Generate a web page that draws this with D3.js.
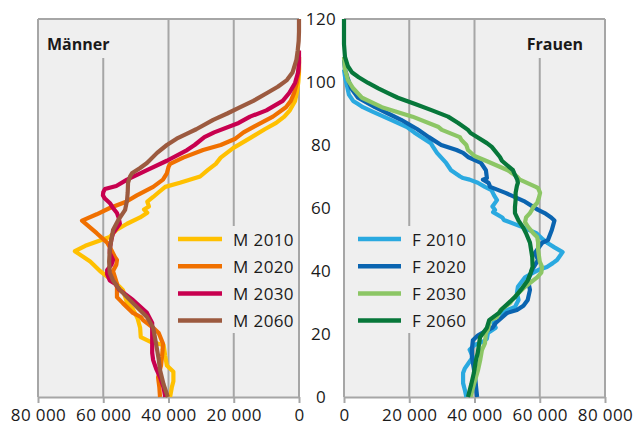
<!DOCTYPE html>
<html><head><meta charset="utf-8">
<script src="https://cdn.jsdelivr.net/npm/d3@7"></script>
<style>body{margin:0;background:#fff}svg{display:block;font-family:"Open Sans",sans-serif}</style>
</head><body><svg id="c" width="635" height="426"></svg>
<script>
// [age, persons]
const m2010 = [[0,39500],[3,39000],[5,38500],[8,38500],[10,40500],[13,41000],[16.5,41500],[17.5,45500],[19,48500],[22,48700],[25,49500],[28,51000],[30,52700],[34,54000],[36,56000],[38,58500],[40,61000],[43,64000],[46.3,68700],[48,65500],[50.8,58000],[53,56000],[55,52700],[57,48700],[58.5,46500],[59.5,47500],[60.5,46000],[62,46500],[63.5,44700],[65,43000],[66.7,41000],[68,36500],[70,30300],[72,28000],[74,25500],[76,24000],[79,20200],[82.5,14500],[85,10500],[87,7000],[89,4500],[91,2800],[94,1200],[97,600],[100,200],[103,0],[108,0]];
const m2020 = [[0,42600],[3,42800],[6.3,43200],[10,42300],[12.7,42000],[15,41800],[17,41700],[20.3,43000],[22,44700],[24.4,47800],[25.4,48500],[26.7,50900],[29.8,54000],[31.7,55800],[33,55800],[36,55800],[40,57000],[42,56000],[43.5,55800],[44.4,56400],[47.6,58000],[49,58800],[52,62000],[56,66500],[58,62000],[60,58000],[62,53000],[64,49700],[66.7,44700],[69,41700],[71,40500],[73,40000],[74,39500],[76,35500],[78.4,29400],[80,24000],[82,19500],[84,17000],[86,13500],[89,8000],[92,4000],[94,2500],[96.5,1500],[100,600],[104,0],[108,0]];
const m2030 = [[0,41000],[3,41500],[6.3,42600],[9,43800],[11.7,44700],[14,45000],[17,45000],[20,45000],[23.5,45000],[26.7,46600],[30.8,50900],[34,55000],[36,56400],[37,58000],[39,58800],[40.3,58800],[42,57500],[43.5,57000],[45.7,58000],[47,58000],[50,57500],[52,57000],[55,54900],[57,55300],[58.4,55800],[60,57000],[61.6,58000],[63,59500],[64,60100],[65,60000],[66,59500],[67,56000],[69,52700],[72,46600],[75,40500],[78.4,34300],[80,32000],[82.5,29000],[84,26000],[87,18500],[89,15000],[91,10000],[94,5000],[96.5,3000],[99.7,1200],[103,300],[106,0],[110,0]];
const m2060 = [[0,40200],[4,41500],[8.6,42600],[12,43000],[15,43500],[18,44000],[22,44700],[25.4,46600],[29.8,50900],[34,54900],[37,57000],[39.4,58000],[43,58200],[46.7,58000],[50,57500],[53,57000],[56,55500],[59.4,53300],[62.5,52700],[65,52500],[68,52400],[70,51800],[71,51200],[72.7,48700],[74.3,46600],[77.5,43500],[80,40500],[82,37500],[84,33500],[85,31500],[88,26300],[90,22000],[92,18000],[94,14000],[96.5,9800],[98.5,6500],[100.6,3700],[103,2000],[107,800],[110,400],[113,100],[116,0],[120,0]];

const f2010 = [[0,37500],[2,37100],[4.4,36500],[7.6,36500],[9,37000],[10.8,38200],[12.7,39500],[15,38500],[16.5,40000],[17.5,42500],[18.5,43800],[20.3,44100],[22,46500],[23.5,45800],[25.4,46000],[27.6,50000],[28.6,52400],[30.8,53500],[33,53000],[35,53300],[38,55500],[39.4,57900],[40.3,59500],[41.3,62200],[42.5,64000],[43.5,65300],[46,67000],[47.5,64500],[48.8,62500],[50,61000],[52,59000],[54,54500],[56.2,49000],[57,48500],[58.7,45700],[59.4,46300],[60.5,45500],[62.5,46900],[64,46000],[65.7,45200],[66.7,43200],[68,41000],[69,38500],[69.5,36500],[70,35600],[72,32800],[74.3,31300],[77.5,28500],[79.4,27300],[80.6,26600],[84,21500],[85.7,19300],[88,14400],[90.5,8900],[92,5800],[93,4300],[94,2800],[96,1500],[98.4,1000],[101,400],[104,0]];
const f2020 = [[0,40800],[3,40500],[6.3,40200],[9,39800],[12.7,39200],[15,39200],[18,39500],[19.5,41000],[20.3,42300],[22,45500],[23.5,46500],[26.7,50000],[27.6,53000],[29,55000],[30.8,56300],[34,57000],[37,56400],[40.3,57600],[43.5,59500],[45.7,58500],[48.9,60700],[49.8,62500],[53,63700],[56,64500],[57,63500],[58.4,61500],[59.4,59500],[62,55500],[64.8,49500],[66.7,44800],[68,44300],[69,42600],[69.5,43800],[72,43500],[74.3,42000],[76.2,38000],[77.5,36500],[78.4,34500],[80,29800],[82.5,26000],[85,22500],[88,17500],[90,13500],[92,9500],[95,4300],[98,2200],[101.6,1000],[104,300],[107,0]];
const f2030 = [[0,38800],[4,39800],[8.6,41100],[12,41800],[15,42300],[17,43200],[20.3,43500],[21.3,44100],[24.4,44800],[25.4,46900],[27.6,48000],[29.8,50900],[30.8,51500],[33,53500],[35,55500],[38,59200],[39.5,60500],[41.3,60700],[43,60000],[46.7,59500],[49,59500],[50.8,59200],[52,58000],[54,56400],[55.5,55500],[57,55800],[58.4,57000],[59.4,57600],[60.3,58000],[61.6,59200],[63.5,59800],[64.8,60100],[66.3,59500],[66.7,58800],[69,53900],[70,53000],[72,50200],[75,43500],[76.5,40000],[78.4,38000],[80,37500],[81.6,36000],[82.5,35500],[84.8,30000],[85.7,29000],[89,21000],[92,11600],[95,5500],[98,2800],[100.6,1200],[104,300],[108,0]];
const f2060 = [[0,38000],[4,39000],[7.6,39800],[12,40500],[14,41000],[19,41700],[22,43800],[24.4,44500],[26.7,47500],[28,48500],[31.7,52400],[34,54200],[37,56300],[39.4,57200],[41.3,57800],[44.4,57700],[49,57000],[52,55800],[54,54800],[56,53500],[58.4,52400],[60.3,52400],[62.5,52600],[64.8,52600],[67,53000],[68,53300],[69,53100],[71,52200],[72,51800],[75,48400],[76.2,47800],[79.4,45300],[80.6,43800],[83.8,38800],[84.8,38000],[87,35000],[89,31900],[91,27000],[93,21800],[95,16500],[96.5,13500],[98,10500],[99.7,7400],[101.5,4500],[103,2500],[105,1200],[108,300],[112,0],[120,0]];

const xTicks = [0, 20000, 40000, 60000, 80000];
const yTicks = [0, 20, 40, 60, 80, 100, 120];
const menLabels = ["M 2010", "M 2020", "M 2030", "M 2060"];
const womenLabels = ["F 2010", "F 2020", "F 2030", "F 2060"];
const menColors = ["#ffc000", "#f07000", "#c8004f", "#9c5a3f"];
const womenColors = ["#2aa9e0", "#0a64b0", "#8cc665", "#07773a"];

const svg = d3.select("#c");
const y = d3.scaleLinear().domain([0, 120]).range([397, 19]);
const xL = d3.scaleLinear().domain([80000, 0]).range([38, 299]);
const xR = d3.scaleLinear().domain([0, 80000]).range([344, 605]);
const fmt = d3.formatLocale({decimal: ",", thousands: " ", grouping: [3], currency: ["", ""]}).format(",");
const grid = "#a6a6a6", bg = "#efefef";

const panels = [
  {x: xL, series: [m2010, m2020, m2030, m2060], colors: menColors, labels: menLabels,
   title: "Männer", titleX: 47, titleAnchor: "start", titleBox: [40, 116],
   legBox: [172, 297], legLine: [178, 222]},
  {x: xR, series: [f2010, f2020, f2030, f2060], colors: womenColors, labels: womenLabels,
   title: "Frauen", titleX: 583, titleAnchor: "end", titleBox: [520, 603],
   legBox: [352, 472], legLine: [358, 401]}
];

panels.forEach(p => {
  const [r0, r1] = p.x.range();
  const xa = Math.min(r0, r1), xb = Math.max(r0, r1);
  const g = svg.append("g");
  g.append("rect").attr("x", xa).attr("y", y(120)).attr("width", xb - xa).attr("height", y(0) - y(120)).attr("fill", bg);
  // gridlines / frame
  g.selectAll(".gl").data(xTicks).join("line")
    .attr("x1", d => p.x(d)).attr("x2", d => p.x(d))
    .attr("y1", y(120)).attr("y2", y(0)).attr("stroke", grid).attr("stroke-width", 2);
  g.append("line").attr("x1", xa).attr("x2", xb).attr("y1", y(120)).attr("y2", y(120)).attr("stroke", grid).attr("stroke-width", 2);
  // title and legend boxes cover gridlines
  g.append("rect").attr("x", p.titleBox[0]).attr("y", y(120) + 1).attr("width", p.titleBox[1] - p.titleBox[0]).attr("height", 38).attr("fill", bg);
  g.append("rect").attr("x", p.legBox[0]).attr("y", 226).attr("width", p.legBox[1] - p.legBox[0]).attr("height", 107).attr("fill", bg);
  // bottom axis
  const ax = g.append("g").attr("transform", `translate(0,${y(0)})`)
    .call(d3.axisBottom(p.x).tickValues(xTicks).tickFormat(d => fmt(d)).tickSize(6).tickSizeOuter(0));
  ax.select(".domain").attr("stroke", grid).attr("stroke-width", 2);
  ax.selectAll(".tick line").attr("stroke", grid).attr("stroke-width", 2);
  ax.selectAll(".tick text").attr("font-family", "Open Sans").attr("font-size", 17).attr("letter-spacing", 0.4)
    .attr("fill", "#1a1a1a").attr("dy", null).attr("y", 23.5);
  // lines
  const line = d3.line().x(d => p.x(d[1])).y(d => y(d[0]));
  g.selectAll(".s").data(p.series).join("path")
    .attr("d", line).attr("fill", "none")
    .attr("stroke", (d, i) => p.colors[i]).attr("stroke-width", 4.2)
    .attr("stroke-linejoin", "round").attr("stroke-linecap", "butt");
  // title
  g.append("text").attr("x", p.titleX).attr("y", 50).attr("text-anchor", p.titleAnchor)
    .attr("font-size", 16).attr("font-weight", 700).attr("fill", "#1a1a1a").text(p.title);
  // legend
  const leg = g.selectAll(".lg").data(p.labels).join("g")
    .attr("transform", (d, i) => `translate(0,${239 + i * 27.2})`);
  leg.append("line").attr("x1", p.legLine[0]).attr("x2", p.legLine[1])
    .attr("stroke", (d, i) => p.colors[i]).attr("stroke-width", 4.5);
  leg.append("text").attr("x", p.legLine[1] + 11).attr("y", 6.5)
    .attr("font-size", 17).attr("letter-spacing", 0.4).attr("fill", "#1a1a1a").text(d => d);
});

// age labels in the middle
svg.append("g").selectAll("text").data(yTicks).join("text")
  .attr("x", 321).attr("y", d => y(d) + 6).attr("text-anchor", "middle")
  .attr("font-size", 17).attr("letter-spacing", 0.4).attr("fill", "#1a1a1a").text(d => d);
</script></body></html>
